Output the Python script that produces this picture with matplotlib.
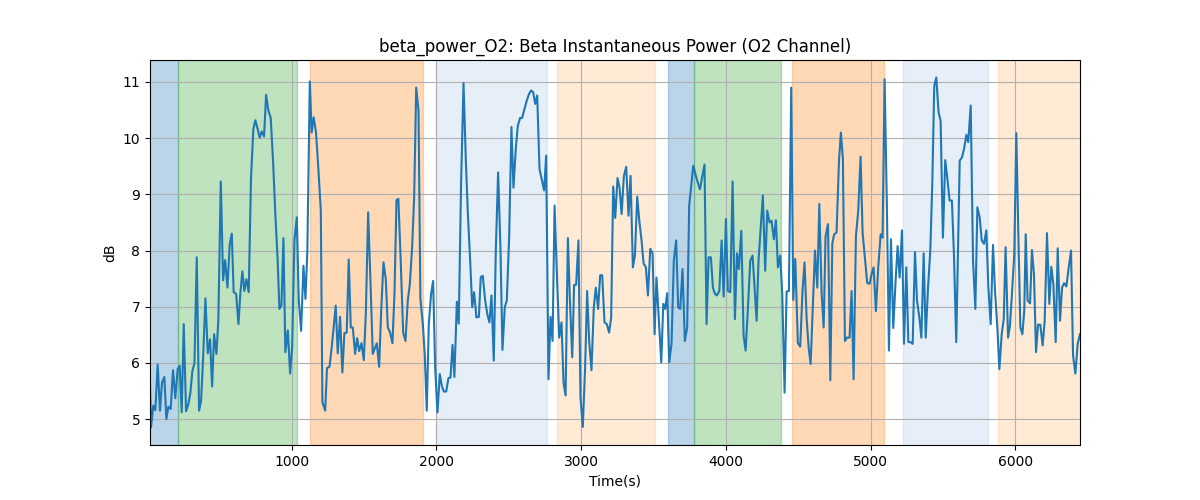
import matplotlib
matplotlib.use("Agg")
import matplotlib.pyplot as plt

# Time (s) of each sample
time_s = [
    21, 28, 44, 58, 74, 90, 104, 120, 134, 148, 164, 180, 196, 212, 226, 240, 254, 270, 286, 300,
    314, 328, 344, 360, 374, 387, 404, 420, 436, 450, 464, 480, 493, 510, 526, 540, 556, 572, 586, 599,
    616, 632, 645, 659, 673, 687, 703, 719, 735, 749, 765, 779, 793, 809, 823, 839, 855, 871, 887, 903,
    915, 929, 943, 956, 973, 989, 1003, 1019, 1035, 1049, 1065, 1081, 1095, 1108, 1125, 1138, 1152, 1168, 1185, 1201,
    1212, 1231, 1244, 1261, 1274, 1288, 1304, 1318, 1334, 1350, 1364, 1380, 1394, 1408, 1422, 1438, 1452, 1466, 1482, 1498,
    1512, 1528, 1544, 1560, 1574, 1588, 1604, 1618, 1634, 1650, 1664, 1680, 1696, 1710, 1724, 1737, 1753, 1770, 1786, 1802,
    1816, 1832, 1846,
    1860, 1876, 1889, 1906, 1919, 1933, 1947, 1963, 1977, 1991, 2007, 2023, 2037, 2051, 2067, 2083, 2097, 2111, 2124, 2141,
    2154, 2170, 2187, 2203, 2217, 2233, 2247, 2260, 2276, 2293, 2306, 2320, 2336, 2352, 2366, 2380, 2396, 2410, 2426, 2442,
    2456, 2472, 2486, 2502, 2518, 2532, 2548, 2562, 2578, 2592, 2608, 2624, 2640, 2654, 2668, 2682, 2696, 2712, 2728, 2744,
    2758, 2774, 2788, 2802, 2816,
    2832, 2848, 2864, 2878, 2892, 2908, 2922, 2938, 2951, 2965, 2981, 2995, 3011, 3027, 3041, 3055, 3071, 3087, 3101, 3117,
    3131, 3145, 3161, 3177, 3193, 3207, 3221, 3235, 3251, 3265, 3279, 3295, 3311, 3327, 3341, 3357, 3371, 3387, 3401, 3417,
    3431, 3447, 3461, 3477, 3493, 3507, 3520, 3537, 3553, 3567, 3580, 3594, 3608, 3624, 3640, 3656, 3670, 3684, 3700, 3716,
    3732,
    3746, 3774, 3795, 3820, 3852, 3866, 3880, 3896, 3910, 3924, 3937, 3954, 3970, 3984, 4000, 4013, 4030, 4046, 4062, 4076,
    4089, 4106, 4122, 4136, 4152, 4168, 4184, 4198, 4212, 4225, 4242, 4255, 4271, 4285, 4301, 4315, 4331, 4345, 4359, 4375,
    4389, 4405, 4419, 4435, 4451, 4465, 4479, 4497, 4513, 4529, 4543, 4557, 4571, 4585, 4601, 4615, 4631, 4645,
    4661, 4675, 4688, 4705, 4721, 4735, 4748, 4764, 4781, 4794, 4808, 4822, 4836, 4854, 4868, 4882, 4898, 4914, 4930, 4944,
    4960, 4976, 4993, 5006, 5020, 5036, 5052, 5069, 5082, 5096, 5112, 5126, 5140, 5156, 5172, 5186, 5200, 5216, 5230, 5246,
    5260, 5274, 5290, 5306, 5320, 5336, 5350, 5366, 5380, 5396, 5412, 5426, 5439, 5453, 5469, 5483, 5499, 5515, 5529, 5545,
    5561, 5575, 5591,
    5615, 5631, 5645, 5661, 5674, 5691, 5707, 5723, 5737, 5753, 5767, 5783, 5799, 5813, 5829, 5845, 5859, 5875, 5889, 5905,
    5919, 5932, 5949, 5962, 5976, 5992, 6006, 6020, 6034, 6048, 6061, 6071, 6084, 6101, 6114, 6128, 6142, 6156, 6172, 6188,
    6202, 6218, 6234, 6248, 6262, 6278, 6292, 6308, 6322, 6336, 6352, 6368, 6384, 6398, 6414, 6430, 6446,
]

# Beta instantaneous power (dB)
power_db = [
    5.65, 4.85, 5.24, 5.16, 5.97, 5.15, 5.65, 5.75, 5.00, 5.22, 5.18, 5.87, 5.37, 5.89, 5.95, 5.12, 6.69, 5.14, 5.27, 5.47,
    5.86, 5.99, 7.88, 5.15, 5.33, 6.04, 7.15, 6.17, 6.42, 5.58, 6.51, 6.16, 6.75, 9.23, 7.47, 7.83, 7.34, 8.12, 8.30, 7.26,
    7.23, 6.69, 7.23, 7.63, 7.28, 7.49, 7.26, 9.30, 10.16, 10.32, 10.16, 10.01, 10.12, 10.03, 10.77, 10.49, 10.36, 9.60, 8.65, 7.82,
    6.96, 7.02, 8.22, 6.19, 6.58, 5.81, 6.28, 8.19, 8.59, 7.11, 6.57, 7.73, 7.14, 7.99, 11.01, 10.10, 10.37, 10.10, 9.42, 8.71,
    5.30, 5.15, 5.91, 5.93, 6.22, 6.58, 7.02, 6.17, 6.82, 5.83, 6.53, 6.54, 7.84, 6.63, 6.63, 6.16, 6.44, 6.21, 6.35, 6.05,
    6.87, 8.68, 7.46, 6.16, 6.26, 6.35, 5.93, 6.92, 7.79, 7.49, 6.63, 6.54, 6.35, 7.23, 8.90, 8.92, 7.82, 6.54, 6.39, 7.11,
    7.40, 8.06, 8.95,
    10.90, 10.49, 7.14, 6.69, 6.16, 5.15, 6.69, 7.23, 7.46, 5.92, 5.12, 5.80, 5.59, 5.49, 5.49, 5.73, 5.74, 6.32, 5.75, 7.09,
    6.70, 9.18, 10.98, 9.60, 8.65, 7.82, 6.99, 7.26, 6.81, 6.82, 7.53, 7.55, 7.12, 6.86, 6.72, 7.20, 6.04, 8.00, 9.39, 8.06,
    6.23, 6.99, 7.11, 8.23, 10.20, 9.12, 9.81, 10.22, 10.36, 10.36, 10.52, 10.67, 10.79, 10.85, 10.82, 10.61, 10.76, 9.45, 9.26, 9.07,
    9.69, 5.71, 6.82, 6.39, 8.80,
    7.58, 6.45, 6.72, 5.65, 5.42, 8.22, 7.11, 6.10, 7.39, 7.39, 8.18, 5.39, 4.86, 5.92, 7.28, 6.39, 5.87, 6.99, 7.34, 6.96,
    7.56, 7.56, 6.72, 6.69, 6.54, 6.81, 9.14, 8.58, 9.29, 9.12, 8.65, 9.33, 9.49, 8.62, 9.33, 7.70, 7.91, 8.96, 8.54, 8.18,
    7.77, 7.70, 7.20, 8.03, 7.95, 6.51, 7.52, 6.75, 6.01, 7.05, 6.96, 7.24, 6.01, 6.34, 7.83, 8.18, 6.99, 6.96, 7.67, 6.39,
    6.63,
    8.80, 9.51, 9.30, 9.09, 9.53, 6.69, 7.88, 7.88, 7.34, 7.23, 7.20, 7.28, 8.18, 7.18, 8.56, 7.28, 7.26, 9.23, 6.78, 7.95,
    7.67, 8.35, 6.48, 6.22, 6.99, 7.82, 7.91, 7.34, 6.75, 7.82, 8.47, 8.98, 7.64, 8.71, 8.50, 8.53, 8.20, 8.54, 7.70, 7.91,
    7.23, 5.47, 7.27, 7.28, 10.90, 7.12, 7.85, 6.35, 6.29, 7.28, 7.79, 6.81, 6.28, 5.98, 7.05, 8.00, 7.34, 8.83,
    7.23, 6.63, 8.25, 8.47, 5.69, 8.13, 8.29, 8.32, 9.60, 10.10, 9.63, 6.39, 6.45, 6.45, 7.28, 5.71, 8.26, 8.71, 9.67, 8.32,
    7.88, 7.42, 7.41, 7.58, 7.70, 6.92, 7.70, 8.29, 8.23, 11.05, 8.77, 6.22, 8.20, 6.62, 7.46, 8.08, 7.52, 8.36, 6.34, 7.70,
    6.37, 6.37, 6.34, 7.97, 7.11, 6.81, 6.45, 7.95, 6.45, 7.34, 8.01, 9.24, 10.93, 11.08, 10.46, 10.31, 8.23, 9.61, 9.30, 8.89,
    8.89, 7.94, 6.37,
    9.60, 9.66, 9.81, 10.06, 9.93, 10.58, 7.82, 6.96, 8.77, 8.59, 8.18, 8.12, 8.36, 7.34, 6.69, 8.10, 7.28, 6.63, 5.89, 6.51,
    6.78, 8.06, 6.45, 6.66, 7.23, 7.94, 10.09, 8.29, 6.63, 6.51, 6.93, 8.29, 7.11, 7.06, 8.01, 7.58, 6.19, 6.68, 6.68, 6.31,
    6.75, 8.31, 7.05, 7.71, 7.40, 6.37, 8.04, 6.75, 7.34, 7.42, 7.36, 7.70, 8.00, 6.13, 5.81, 6.34, 6.51,
]

# Shaded stage intervals (s)
span_start = [0, 215, 1129, 1998, 2836, 3603, 3776, 4458, 5220, 5877]
span_end = [215, 1035, 1905, 2762, 3507, 3776, 4382, 5094, 5808, 6500]
span_color = ["#1f77b4", "#2ca02c", "#ff7f0e", "#aec7e8", "#ffbb78",
              "#1f77b4", "#2ca02c", "#ff7f0e", "#aec7e8", "#ffbb78"]

fig, ax = plt.subplots(figsize=(12, 5), dpi=100)
for s, e, c in zip(span_start, span_end, span_color):
    ax.axvspan(s, e, color=c, alpha=0.3)
ax.plot(time_s, power_db, color="#1f77b4", linewidth=1.5)
ax.set_xlim(time_s[0], time_s[-1])
ax.grid(True)
ax.set_title("beta_power_O2: Beta Instantaneous Power (O2 Channel)")
ax.set_xlabel("Time(s)")
ax.set_ylabel("dB")
fig.savefig("out.png", dpi=100)
